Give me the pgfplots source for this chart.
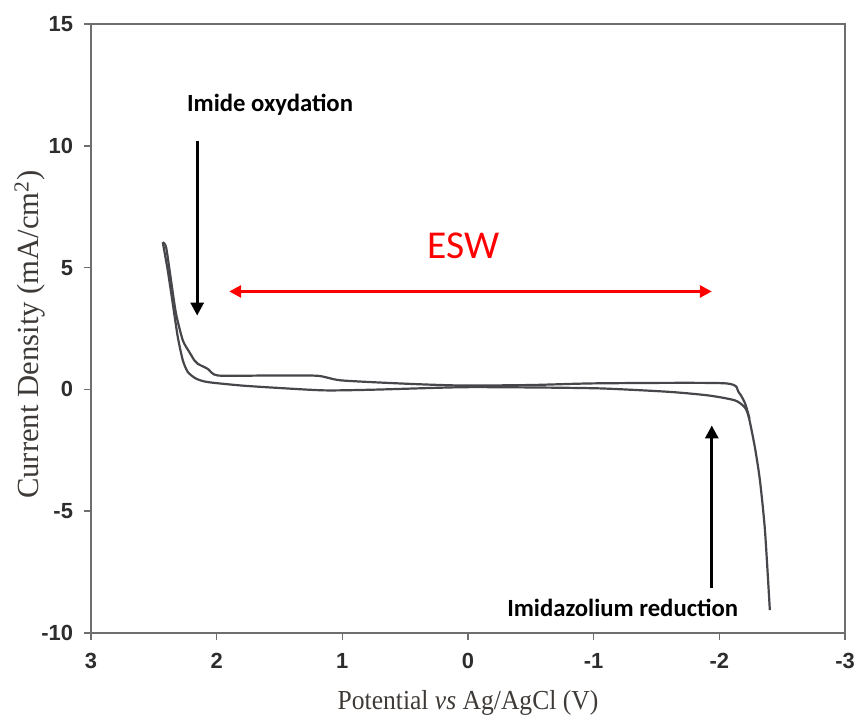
\documentclass[border=0pt]{standalone}
\usepackage{pgfplots}
\pgfplotsset{compat=1.18}
\usetikzlibrary{arrows.meta}
\usepackage{fontspec}
\setmainfont{Liberation Serif}
\newfontfamily\condserif[FakeStretch=0.93]{Liberation Serif}
\newfontfamily\arialf{Liberation Sans}
\newfontfamily\calib{Carlito}
\definecolor{axgray}{RGB}{110,110,110}
\definecolor{tickc}{RGB}{45,45,45}
\definecolor{labc}{RGB}{62,58,55}
\definecolor{curve}{RGB}{70,70,75}
\begin{document}
\begin{tikzpicture}
\begin{axis}[
  scale only axis, width=377bp, height=304.5bp,
  xmin=-3, xmax=3, ymin=-10, ymax=15, x dir=reverse,
  xtick={-3,-2,-1,0,1,2,3}, xticklabels={-3,-2,-1,0,1,2,3},
  ytick={-10,-5,0,5,10,15}, yticklabels={-10,-5,0,5,10,15},
  tick align=outside, tick pos=left, major tick length=3.5bp,
  axis line style={draw=axgray, line width=1bp},
  every tick/.style={axgray, line width=0.8bp},
  ticklabel style={font=\arialf\bfseries\fontsize{11}{11}\selectfont, text=tickc},
  xticklabel shift=3bp, yticklabel shift=2bp,
  xlabel={Potential \textit{vs} Ag/AgCl (V)},
  ylabel={Current Density (mA/cm\textsuperscript{2})},
  xlabel style={font=\condserif\fontsize{13.8}{13.8}\selectfont, text=labc, at={(axis description cs:0.5,-0.115)}, anchor=center},
  ylabel style={font=\fontsize{15.4}{15.4}\selectfont, text=labc, at={(axis description cs:-0.081,0.49)}, anchor=center},
  clip=false,
]
% branch 1 (outer on the left, lower in the middle)
\addplot[curve, line width=1.1bp, smooth, tension=0.4] coordinates {
(2.429,6.04) (2.389,4.88) (2.349,3.51) (2.309,2.14) (2.269,1.19) (2.229,0.71)
(2.163,0.44) (2.070,0.30) (1.805,0.16) (1.539,0.07) (1.141,-0.04) (0.743,-0.01)
(0.052,0.09) (-0.5,0.08) (-1.06,0.04) (-1.6,-0.10) (-1.916,-0.25) (-2.124,-0.45)
(-2.203,-0.74) (-2.235,-1.15) (-2.283,-2.38) (-2.323,-3.73) (-2.363,-5.78) (-2.402,-9.06)};
% branch 2 (inner on the left, upper in the middle)
\addplot[curve, line width=1.1bp, smooth, tension=0.4] coordinates {
(2.429,6.04) (2.402,5.83) (2.363,4.47) (2.323,3.10) (2.269,2.01) (2.217,1.53)
(2.177,1.19) (2.150,1.05) (2.070,0.84) (1.990,0.57) (1.6,0.57) (1.2,0.56)
(1.008,0.37) (0.477,0.23) (0.052,0.16) (-0.5,0.18) (-1.04,0.25) (-2.044,0.25)
(-2.153,-0.11) (-2.206,-0.59) (-2.24,-1.2)};
% annotations
\node[font=\calib\bfseries\fontsize{12.4}{12.4}\selectfont] at (axis cs:1.575,11.7) {Imide oxydation};
\draw[black, line width=1.5bp, -{Triangle[length=6.5bp,width=6.5bp]}] (axis cs:2.155,10.2) -- (axis cs:2.155,3.03);
\node[font=\calib\fontsize{19.8}{19.8}\selectfont, text=red] at (axis cs:0.036,5.9) {ESW};
\draw[red, line width=1.5bp, {Triangle[length=6bp,width=6bp]}-{Triangle[length=6bp,width=6bp]}] (axis cs:1.90,4.02) -- (axis cs:-1.94,4.02);
\draw[black, line width=1.5bp, -{Triangle[length=6.5bp,width=6.5bp]}] (axis cs:-1.94,-8.16) -- (axis cs:-1.94,-1.48);
\node[font=\calib\bfseries\fontsize{12.4}{12.4}\selectfont] at (axis cs:-1.231,-8.98) {Imidazolium reduction};
\end{axis}
\pgfresetboundingbox
\path ([shift={(-45.5bp,-43bp)}]current axis.south west) rectangle ([shift={(5.5bp,12bp)}]current axis.north east);
\end{tikzpicture}
\end{document}
